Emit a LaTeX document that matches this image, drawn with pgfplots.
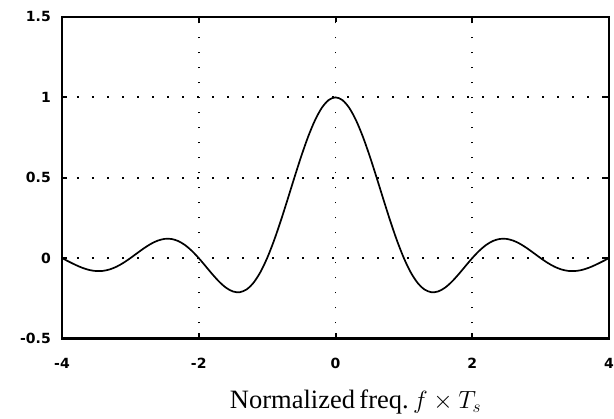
\documentclass[border=0pt]{standalone}
\usepackage{fontspec}
\setmainfont{Liberation Serif}
\newfontfamily\ticksans{DejaVu Sans}
\usepackage{pgfplots}
\pgfplotsset{compat=1.18}

% sampled pulse spectrum, symmetric about 0
\pgfplotstableread{
x y
-4.0 0
-3.9 -0.0217
-3.8 -0.0426
-3.7 -0.0607
-3.6 -0.0739
-3.5 -0.0805
-3.4 -0.0793
-3.3 -0.0700
-3.2 -0.0528
-3.1 -0.0288
-3.0 0
-2.9 0.0312
-2.8 0.0618
-2.7 0.0887
-2.6 0.1088
-2.5 0.1196
-2.4 0.1191
-2.3 0.1062
-2.2 0.0810
-2.1 0.0448
-2.0 0
-1.9 -0.0499
-1.8 -0.1006
-1.7 -0.1472
-1.6 -0.1844
-1.5 -0.2075
-1.4 -0.2120
-1.3 -0.1948
-1.2 -0.1537
-1.1 -0.0884
-1.0 0
-0.9 0.1084
-0.8 0.2324
-0.7 0.3661
-0.6 0.5027
-0.5 0.6350
-0.4 0.7556
-0.3 0.8576
-0.2 0.9351
-0.1 0.9835
0.0 1.0
0.1 0.9835
0.2 0.9351
0.3 0.8576
0.4 0.7556
0.5 0.6350
0.6 0.5027
0.7 0.3661
0.8 0.2324
0.9 0.1084
1.0 0
1.1 -0.0884
1.2 -0.1537
1.3 -0.1948
1.4 -0.2120
1.5 -0.2075
1.6 -0.1844
1.7 -0.1472
1.8 -0.1006
1.9 -0.0499
2.0 0
2.1 0.0448
2.2 0.0810
2.3 0.1062
2.4 0.1191
2.5 0.1196
2.6 0.1088
2.7 0.0887
2.8 0.0618
2.9 0.0312
3.0 0
3.1 -0.0288
3.2 -0.0528
3.3 -0.0700
3.4 -0.0793
3.5 -0.0805
3.6 -0.0739
3.7 -0.0607
3.8 -0.0426
3.9 -0.0217
4.0 0
}\spectrum

\begin{document}
\begin{tikzpicture}
\begin{axis}[
  name=ax,
  scale only axis,
  width=547pt, height=321.5pt,
  xmin=-4, xmax=4, ymin=-0.5, ymax=1.5,
  xtick={-4,-2,0,2,4},
  ytick={-0.5,0,0.5,1,1.5},
  tick align=inside,
  major tick length=5pt,
  tick style={black, line width=2pt},
  axis line style={black, line width=2pt},
  axis on top,
  grid=major,
  major grid style={black, line width=1.8pt, dash pattern=on 1.8pt off 13.2pt},
  /pgf/number format/assume math mode=true,
  tick label style={font=\ticksans\bfseries\fontsize{14}{14}\selectfont, inner sep=0pt},
  yticklabel style={anchor=east, xshift=-11pt},
  xticklabel style={anchor=north, yshift=-19.5pt},
  xlabel={Normalized\,freq.\,$f\times T_s$},
  xlabel style={font=\fontsize{26.5}{26.5}\selectfont, at={(axis description cs:0.5,0)}, anchor=base, xshift=20pt, yshift=-70pt, inner sep=0pt},
]
\addplot[black, line width=1.7pt, smooth] table[x=x, y=y] {\spectrum};
\end{axis}
\path ([shift={(-62pt,-80.5pt)}]ax.south west) rectangle ([shift={(5pt,17pt)}]ax.north east);
\end{tikzpicture}
\end{document}
